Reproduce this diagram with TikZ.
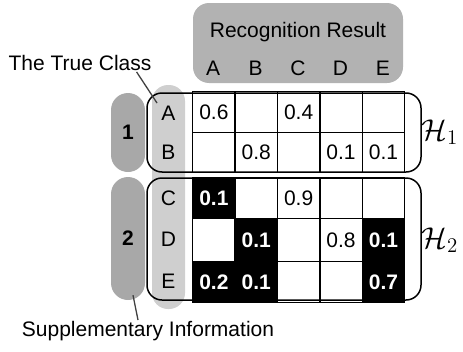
\documentclass[tikz,border=0pt]{standalone}
\usepackage{fontspec}
\setmainfont{Liberation Sans}
\begin{document}
\begin{tikzpicture}[x=1pt,y=-1pt,
  every node/.style={font=\fontsize{21}{25}\selectfont},
  cell/.style={draw=black,line width=1.3pt,minimum width=42.4pt,inner sep=0pt,
    anchor=north west,font=\fontsize{21}{25}\selectfont},
  block/.style={draw=black,line width=1.5pt,rounded corners=15pt,inner sep=0pt},
  header/.style={fill=gray!60,rounded corners=16pt,inner sep=0pt},
  classpill/.style={fill=gray!38,rounded corners=16pt,inner sep=0pt},
  grouppill/.style={fill=gray!68,rounded corners=17pt,inner sep=0pt,minimum width=34pt},
  pointer/.style={draw=black!75,line width=1.3pt}]
\useasboundingbox (0,0) rectangle (463,351);

% header over the recognised classes
\node[header,minimum width=210pt,minimum height=80pt] (hdr) at (298,43) {};
\node (hdrtext) at (298,32) {Recognition Result};
\foreach \i/\l in {0/A,1/B,2/C,3/D,4/E}
  \node (col\l) at (213.2+42.4*\i,68) {\l};

% true-class column and group pills
\node[classpill,minimum width=33pt,minimum height=224pt] (tcpill) at (168.5,197) {};
\node[grouppill,minimum height=79pt] (g1) at (128,132.5) {\bfseries 1};
\node[grouppill,minimum height=123pt] (g2) at (128,238.5) {\bfseries 2};
\foreach \l/\y in {A/113,B/152,C/198,D/239,E/281}
  \node (row\l) at (168.5,\y) {\l};

% confusion matrix, group 1
\foreach \i/\v/\f/\t in {0/0.6/white/black,1//white/black,2/0.4/white/black,3//white/black,4//white/black}
  \node[cell,minimum height=41pt,fill=\f,text=\t] (cA\i) at (192+42.4*\i,91) {\v};
\foreach \i/\v/\f/\t in {0//white/black,1/0.8/white/black,2//white/black,3/0.1/white/black,4/0.1/white/black}
  \node[cell,minimum height=40pt,fill=\f,text=\t] (cB\i) at (192+42.4*\i,132) {\v};

% confusion matrix, group 2
\foreach \i/\v/\f/\t in {0/\bfseries 0.1/black/white,1//white/black,2/0.9/white/black,3//white/black,4//white/black}
  \node[cell,minimum height=41pt,fill=\f,text=\t] (cC\i) at (192+42.4*\i,177) {\v};
\foreach \i/\v/\f/\t in {0//white/black,1/\bfseries 0.1/black/white,2//white/black,3/0.8/white/black,4/\bfseries 0.1/black/white}
  \node[cell,minimum height=43pt,fill=\f,text=\t] (cD\i) at (192+42.4*\i,218) {\v};
\foreach \i/\v/\f/\t in {0/\bfseries 0.2/black/white,1/\bfseries 0.1/black/white,2//white/black,3//white/black,4/\bfseries 0.7/black/white}
  \node[cell,minimum height=41pt,fill=\f,text=\t] (cE\i) at (192+42.4*\i,261) {\v};

% group frames
\node[block,minimum width=274pt,minimum height=79pt] (h1box) at (284,132.5) {};
\node[block,minimum width=274pt,minimum height=122pt] (h2box) at (284,239) {};
\node (h1) at (440,132) {\scalebox{1.45}{$\mathcal{H}_1$}};
\node (h2) at (440,240) {\scalebox{1.45}{$\mathcal{H}_2$}};

% annotations
\node[inner sep=1pt] (tc) at (80,63) {The True Class};
\coordinate (tcend) at (157,103);
\draw[pointer] ([xshift=-16pt]tc.south east) -- (tcend);
\node[inner sep=1pt] (si) at (148,331) {Supplementary Information};
\draw[pointer] ([xshift=5pt,yshift=5pt]g2.south) -- ([xshift=-10pt]si.north);
\end{tikzpicture}
\end{document}
